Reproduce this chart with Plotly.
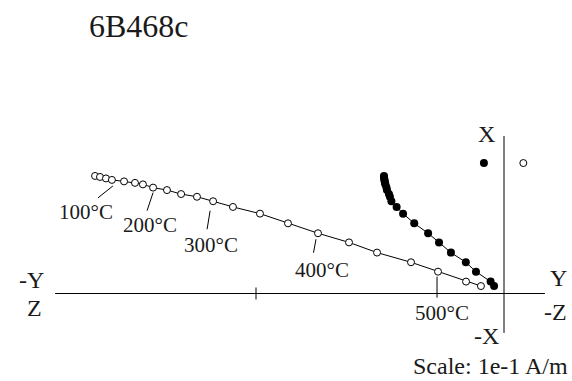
import plotly.graph_objects as go

# Orthogonal vector (Zijderveld) plot of specimen 6B468c, values in mA/m.
# Shared vertical component (X) for every demagnetisation step
x_comp = [47.4, 47.0, 46.4, 45.8, 45.2, 44.6, 44.0, 42.7, 41.7, 40.1, 39.0,
          37.2, 34.9, 32.2, 28.3, 24.3, 20.6, 16.5, 12.6, 8.8, 4.8, 3.0]
# Horizontal-plane projection: horizontal component (Y)
y_comp = [-48.4, -48.4, -48.3, -48.2, -48.1, -48.0, -47.8, -47.4, -47.2, -46.4, -46.0,
          -45.4, -43.3, -40.7, -36.2, -30.6, -26.2, -21.4, -15.4, -11.3, -5.4, -4.0]
# Vertical-plane projection: horizontal component (Z, positive to the left)
z_comp = [-164.9, -162.9, -160.5, -158.1, -153.2, -148.8, -145.6, -141.5, -135.9, -130.2, -123.8,
          -117.3, -109.3, -98.4, -87.1, -75.0, -62.5, -51.2, -37.5, -26.6, -15.3, -9.3]

# Isolated first measurement
nrm_x = [52.6]
nrm_y = [-8.1]
nrm_z = [7.8]

# Temperature labels and the step each one refers to
temp_labels = ["100°C", "200°C", "300°C", "400°C", "500°C"]
temp_steps = [3, 7, 11, 15, 19]

scale_unit = 100.0  # 1e-1 A/m in mA/m
axis_left, axis_right = -181.0, 16.5
axis_top, axis_bottom = 63.5, -15.9

W, H = 572, 381
PX = 2.48  # pixels per mA/m
x_range = [-504 / PX, (W - 504) / PX]
y_range = [(293.5 - H) / PX, 293.5 / PX]

FONT = "Liberation Serif, Times New Roman, Times, serif"
INK = "#1a1a1a"

fig = go.Figure()

fig.add_trace(go.Scatter(
    x=z_comp, y=x_comp, mode="lines+markers",
    line=dict(color="black", width=1),
    marker=dict(symbol="circle", size=7, color="white",
                line=dict(color="black", width=1)),
    showlegend=False, hoverinfo="skip"))

fig.add_trace(go.Scatter(
    x=y_comp, y=x_comp, mode="lines+markers",
    line=dict(color="black", width=1),
    marker=dict(symbol="circle", size=8, color="black",
                line=dict(color="black", width=0)),
    showlegend=False, hoverinfo="skip"))

fig.add_trace(go.Scatter(
    x=nrm_z, y=nrm_x, mode="markers",
    marker=dict(symbol="circle", size=7, color="white",
                line=dict(color="black", width=1)),
    showlegend=False, hoverinfo="skip"))
fig.add_trace(go.Scatter(
    x=nrm_y, y=nrm_x, mode="markers",
    marker=dict(symbol="circle", size=8, color="black"),
    showlegend=False, hoverinfo="skip"))

shapes = [
    dict(type="line", xref="x", yref="y", x0=axis_left, x1=axis_right, y0=0, y1=0,
         line=dict(color="black", width=1)),
    dict(type="line", xref="x", yref="y", x0=0, x1=0, y0=axis_bottom, y1=axis_top,
         line=dict(color="black", width=1)),
    # scale tick
    dict(type="line", xref="x", yref="y", xsizemode="pixel", ysizemode="pixel",
         xanchor=-scale_unit, yanchor=0, x0=0, x1=0, y0=-6, y1=6,
         line=dict(color="black", width=1)),
]

# leader offsets (pixels) from the labelled point: (dx0, dy0, dx1, dy1), y up
leaders = [(1, -6, -14, -18), (0, -5, -6, -23), (-3, -9.5, -6, -28),
           (-2, -6, -4.5, -19.5), (-1, -5, -1, -26)]
label_shift = [(-26, -32), (-3, -37.5), (-2, -44), (4, -37), (4, -41)]

annotations = []
for lab, step, ld, sh in zip(temp_labels, temp_steps, leaders, label_shift):
    px_, py_ = z_comp[step], x_comp[step]
    shapes.append(dict(type="line", xref="x", yref="y", xsizemode="pixel",
                       ysizemode="pixel", xanchor=px_, yanchor=py_,
                       x0=ld[0], y0=ld[1], x1=ld[2], y1=ld[3],
                       line=dict(color="black", width=1)))
    annotations.append(dict(x=px_, y=py_, xref="x", yref="y", text=lab,
                            showarrow=False, xshift=sh[0], yshift=sh[1],
                            font=dict(family=FONT, size=21, color=INK)))


def to_data(px_, py_):
    return (px_ - 504) / PX, (293.5 - py_) / PX


for txt, (cx, cy) in [("X", (486, 134)), ("-X", (486, 336)), ("-Y", (31, 280)),
                      ("Z", (34, 308)), ("Y", (558, 278)), ("-Z", (555, 312))]:
    dx, dy = to_data(cx, cy)
    annotations.append(dict(x=dx, y=dy, xref="x", yref="y", text=txt,
                            showarrow=False,
                            font=dict(family=FONT, size=24, color=INK)))

annotations.append(dict(x=570 / W, y=1 - 366 / H, xref="paper", yref="paper",
                        xanchor="right", yanchor="middle", showarrow=False,
                        text="Scale: 1e-1 A/m",
                        font=dict(family=FONT, size=24, color=INK)))
annotations.append(dict(x=87 / W, y=1 - 26 / H, xref="paper", yref="paper",
                        xanchor="left", yanchor="middle", showarrow=False,
                        text="6B468c",
                        font=dict(family=FONT, size=32, color=INK)))

fig.update_layout(
    width=W, height=H, margin=dict(l=0, r=0, t=0, b=0),
    paper_bgcolor="white", plot_bgcolor="white",
    font=dict(family=FONT),
    xaxis=dict(range=x_range, visible=False, fixedrange=True),
    yaxis=dict(range=y_range, visible=False, fixedrange=True),
    shapes=shapes, annotations=annotations,
)

fig.write_html("out.html")
